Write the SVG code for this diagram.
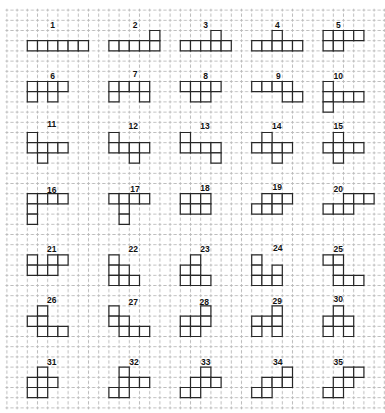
<svg xmlns="http://www.w3.org/2000/svg" width="385" height="413" viewBox="0 0 385 413">
<style>
.c rect{fill:#fff;stroke:#262626;stroke-width:1.2;vector-effect:non-scaling-stroke}
text{font-family:"Liberation Sans",Arial,sans-serif;font-weight:bold;font-size:8.5px;fill:#111;text-anchor:middle}
</style>
<defs>
<pattern id="grid" patternUnits="userSpaceOnUse" x="1.8" y="-5.2" width="10.2" height="10.2">
<path d="M0,5.1H1.6M3.6,5.1H6.6M8.6,5.1H10.2M5.1,0V1.6M5.1,3.6V6.6M5.1,8.6V10.2" fill="none" stroke="#bcbcbc" stroke-width="1"/>
</pattern>
</defs>
<rect width="385" height="413" fill="#fff"/>
<rect x="5" y="8" width="380" height="402" fill="url(#grid)"/>
<g id="connectors"></g>
<g id="n1"><text x="52.7" y="28">1</text><g class="c" transform="matrix(10.2 0 0 10.2 6.9 -0.1)"><rect x="2" y="4" width="1" height="1"/><rect x="3" y="4" width="1" height="1"/><rect x="4" y="4" width="1" height="1"/><rect x="5" y="4" width="1" height="1"/><rect x="6" y="4" width="1" height="1"/><rect x="7" y="4" width="1" height="1"/></g></g>
<g id="n2"><text x="135" y="27.5">2</text><g class="c" transform="matrix(10.2 0 0 10.2 6.9 -0.1)"><rect x="10" y="4" width="1" height="1"/><rect x="11" y="4" width="1" height="1"/><rect x="12" y="4" width="1" height="1"/><rect x="13" y="4" width="1" height="1"/><rect x="14" y="4" width="1" height="1"/><rect x="14" y="3" width="1" height="1"/></g></g>
<g id="n3"><text x="205.7" y="27.7">3</text><g class="c" transform="matrix(10.2 0 0 10.2 6.9 -0.1)"><rect x="17" y="4" width="1" height="1"/><rect x="18" y="4" width="1" height="1"/><rect x="19" y="4" width="1" height="1"/><rect x="20" y="4" width="1" height="1"/><rect x="21" y="4" width="1" height="1"/><rect x="20" y="3" width="1" height="1"/></g></g>
<g id="n4"><text x="277.3" y="28">4</text><g class="c" transform="matrix(10.2 0 0 10.2 6.9 -0.1)"><rect x="24" y="4" width="1" height="1"/><rect x="25" y="4" width="1" height="1"/><rect x="26" y="4" width="1" height="1"/><rect x="27" y="4" width="1" height="1"/><rect x="28" y="4" width="1" height="1"/><rect x="26" y="3" width="1" height="1"/></g></g>
<g id="n5"><text x="338.3" y="27.5">5</text><g class="c" transform="matrix(10.2 0 0 10.2 6.9 -0.1)"><rect x="31" y="3" width="1" height="1"/><rect x="32" y="3" width="1" height="1"/><rect x="33" y="3" width="1" height="1"/><rect x="34" y="3" width="1" height="1"/><rect x="31" y="4" width="1" height="1"/><rect x="32" y="4" width="1" height="1"/></g></g>
<g id="n6"><text x="52.7" y="79.3">6</text><g class="c" transform="matrix(10.2 0 0 10.2 6.9 -0.1)"><rect x="2" y="8" width="1" height="1"/><rect x="3" y="8" width="1" height="1"/><rect x="4" y="8" width="1" height="1"/><rect x="5" y="8" width="1" height="1"/><rect x="2" y="9" width="1" height="1"/><rect x="4" y="9" width="1" height="1"/></g></g>
<g id="n7"><text x="135" y="77">7</text><g class="c" transform="matrix(10.2 0 0 10.2 6.9 -0.1)"><rect x="10" y="8" width="1" height="1"/><rect x="11" y="8" width="1" height="1"/><rect x="12" y="8" width="1" height="1"/><rect x="13" y="8" width="1" height="1"/><rect x="10" y="9" width="1" height="1"/><rect x="13" y="9" width="1" height="1"/></g></g>
<g id="n8"><text x="205.7" y="79">8</text><g class="c" transform="matrix(10.2 0 0 10.2 6.9 -0.1)"><rect x="17" y="8" width="1" height="1"/><rect x="18" y="8" width="1" height="1"/><rect x="19" y="8" width="1" height="1"/><rect x="20" y="8" width="1" height="1"/><rect x="18" y="9" width="1" height="1"/><rect x="19" y="9" width="1" height="1"/></g></g>
<g id="n9"><text x="278.3" y="78.7">9</text><g class="c" transform="matrix(10.2 0 0 10.2 6.9 -0.1)"><rect x="24" y="8" width="1" height="1"/><rect x="25" y="8" width="1" height="1"/><rect x="26" y="8" width="1" height="1"/><rect x="27" y="8" width="1" height="1"/><rect x="27" y="9" width="1" height="1"/><rect x="28" y="9" width="1" height="1"/></g></g>
<g id="n10"><text x="338.3" y="78.7">10</text><g class="c" transform="matrix(10.2 0 0 10.2 6.9 -0.1)"><rect x="31" y="8" width="1" height="1"/><rect x="31" y="9" width="1" height="1"/><rect x="32" y="9" width="1" height="1"/><rect x="33" y="9" width="1" height="1"/><rect x="34" y="9" width="1" height="1"/><rect x="31" y="10" width="1" height="1"/></g></g>
<g id="n11"><text x="51.7" y="127.3">11</text><g class="c" transform="matrix(10.2 0 0 10.2 6.9 -0.1)"><rect x="2" y="13" width="1" height="1"/><rect x="2" y="14" width="1" height="1"/><rect x="3" y="14" width="1" height="1"/><rect x="4" y="14" width="1" height="1"/><rect x="5" y="14" width="1" height="1"/><rect x="3" y="15" width="1" height="1"/></g></g>
<g id="n12"><text x="133.3" y="129.3">12</text><g class="c" transform="matrix(10.2 0 0 10.2 6.9 -0.1)"><rect x="10" y="13" width="1" height="1"/><rect x="10" y="14" width="1" height="1"/><rect x="11" y="14" width="1" height="1"/><rect x="12" y="14" width="1" height="1"/><rect x="13" y="14" width="1" height="1"/><rect x="12" y="15" width="1" height="1"/></g></g>
<g id="n13"><text x="205" y="129.3">13</text><g class="c" transform="matrix(10.2 0 0 10.2 6.9 -0.1)"><rect x="17" y="13" width="1" height="1"/><rect x="17" y="14" width="1" height="1"/><rect x="18" y="14" width="1" height="1"/><rect x="19" y="14" width="1" height="1"/><rect x="20" y="14" width="1" height="1"/><rect x="20" y="15" width="1" height="1"/></g></g>
<g id="n14"><text x="276.7" y="129.3">14</text><g class="c" transform="matrix(10.2 0 0 10.2 6.9 -0.1)"><rect x="25" y="13" width="1" height="1"/><rect x="24" y="14" width="1" height="1"/><rect x="25" y="14" width="1" height="1"/><rect x="26" y="14" width="1" height="1"/><rect x="27" y="14" width="1" height="1"/><rect x="26" y="15" width="1" height="1"/></g></g>
<g id="n15"><text x="338.3" y="129.3">15</text><g class="c" transform="matrix(10.2 0 0 10.2 6.9 -0.1)"><rect x="32" y="13" width="1" height="1"/><rect x="31" y="14" width="1" height="1"/><rect x="32" y="14" width="1" height="1"/><rect x="33" y="14" width="1" height="1"/><rect x="34" y="14" width="1" height="1"/><rect x="32" y="15" width="1" height="1"/></g></g>
<g id="n16"><text x="51.7" y="192.5">16</text><g class="c" transform="matrix(10.2 0 0 10.2 6.9 -0.1)"><rect x="2" y="19" width="1" height="1"/><rect x="3" y="19" width="1" height="1"/><rect x="4" y="19" width="1" height="1"/><rect x="5" y="19" width="1" height="1"/><rect x="2" y="20" width="1" height="1"/><rect x="2" y="21" width="1" height="1"/></g></g>
<g id="n17"><text x="135" y="191.7">17</text><g class="c" transform="matrix(10.2 0 0 10.2 6.9 -0.1)"><rect x="10" y="19" width="1" height="1"/><rect x="11" y="19" width="1" height="1"/><rect x="12" y="19" width="1" height="1"/><rect x="13" y="19" width="1" height="1"/><rect x="11" y="20" width="1" height="1"/><rect x="11" y="21" width="1" height="1"/></g></g>
<g id="n18"><text x="205" y="190.7">18</text><g class="c" transform="matrix(10.2 0 0 10.2 6.9 -0.1)"><rect x="17" y="19" width="1" height="1"/><rect x="18" y="19" width="1" height="1"/><rect x="19" y="19" width="1" height="1"/><rect x="17" y="20" width="1" height="1"/><rect x="18" y="20" width="1" height="1"/><rect x="19" y="20" width="1" height="1"/></g></g>
<g id="n19"><text x="277.3" y="190">19</text><g class="c" transform="matrix(10.2 0 0 10.2 6.9 -0.1)"><rect x="25" y="19" width="1" height="1"/><rect x="26" y="19" width="1" height="1"/><rect x="27" y="19" width="1" height="1"/><rect x="24" y="20" width="1" height="1"/><rect x="25" y="20" width="1" height="1"/><rect x="26" y="20" width="1" height="1"/></g></g>
<g id="n20"><text x="338.3" y="191.7">20</text><g class="c" transform="matrix(10.2 0 0 10.2 6.9 -0.1)"><rect x="33" y="19" width="1" height="1"/><rect x="34" y="19" width="1" height="1"/><rect x="35" y="19" width="1" height="1"/><rect x="31" y="20" width="1" height="1"/><rect x="32" y="20" width="1" height="1"/><rect x="33" y="20" width="1" height="1"/></g></g>
<g id="n21"><text x="51.7" y="251.7">21</text><g class="c" transform="matrix(10.2 0 0 10.2 6.9 -0.1)"><rect x="2" y="25" width="1" height="1"/><rect x="4" y="25" width="1" height="1"/><rect x="5" y="25" width="1" height="1"/><rect x="2" y="26" width="1" height="1"/><rect x="3" y="26" width="1" height="1"/><rect x="4" y="26" width="1" height="1"/></g></g>
<g id="n22"><text x="133.3" y="252.3">22</text><g class="c" transform="matrix(10.2 0 0 10.2 6.9 -0.1)"><rect x="10" y="25" width="1" height="1"/><rect x="10" y="26" width="1" height="1"/><rect x="11" y="26" width="1" height="1"/><rect x="10" y="27" width="1" height="1"/><rect x="11" y="27" width="1" height="1"/><rect x="12" y="27" width="1" height="1"/></g></g>
<g id="n23"><text x="205" y="251.7">23</text><g class="c" transform="matrix(10.2 0 0 10.2 6.9 -0.1)"><rect x="18" y="25" width="1" height="1"/><rect x="17" y="26" width="1" height="1"/><rect x="18" y="26" width="1" height="1"/><rect x="17" y="27" width="1" height="1"/><rect x="18" y="27" width="1" height="1"/><rect x="19" y="27" width="1" height="1"/></g></g>
<g id="n24"><text x="277.7" y="251">24</text><g class="c" transform="matrix(10.2 0 0 10.2 6.9 -0.1)"><rect x="24" y="25" width="1" height="1"/><rect x="24" y="26" width="1" height="1"/><rect x="26" y="26" width="1" height="1"/><rect x="24" y="27" width="1" height="1"/><rect x="25" y="27" width="1" height="1"/><rect x="26" y="27" width="1" height="1"/></g></g>
<g id="n25"><text x="338.3" y="252.3">25</text><g class="c" transform="matrix(10.2 0 0 10.2 6.9 -0.1)"><rect x="31" y="25" width="1" height="1"/><rect x="32" y="25" width="1" height="1"/><rect x="32" y="26" width="1" height="1"/><rect x="32" y="27" width="1" height="1"/><rect x="33" y="27" width="1" height="1"/><rect x="34" y="27" width="1" height="1"/></g></g>
<g id="n26"><text x="51.7" y="303.3">26</text><g class="c" transform="matrix(10.2 0 0 10.2 6.9 -0.1)"><rect x="3" y="30" width="1" height="1"/><rect x="2" y="31" width="1" height="1"/><rect x="3" y="31" width="1" height="1"/><rect x="3" y="32" width="1" height="1"/><rect x="4" y="32" width="1" height="1"/><rect x="5" y="32" width="1" height="1"/></g></g>
<g id="n27"><text x="133.3" y="305">27</text><g class="c" transform="matrix(10.2 0 0 10.2 6.9 -0.1)"><rect x="10" y="30" width="1" height="1"/><rect x="10" y="31" width="1" height="1"/><rect x="11" y="31" width="1" height="1"/><rect x="11" y="32" width="1" height="1"/><rect x="12" y="32" width="1" height="1"/><rect x="13" y="32" width="1" height="1"/></g></g>
<g id="n28"><text x="204.3" y="305">28</text><g class="c" transform="matrix(10.2 0 0 10.2 6.9 -0.1)"><rect x="19" y="30" width="1" height="1"/><rect x="17" y="31" width="1" height="1"/><rect x="18" y="31" width="1" height="1"/><rect x="19" y="31" width="1" height="1"/><rect x="17" y="32" width="1" height="1"/><rect x="18" y="32" width="1" height="1"/></g></g>
<g id="n29"><text x="277.3" y="304.3">29</text><g class="c" transform="matrix(10.2 0 0 10.2 6.9 -0.1)"><rect x="26" y="30" width="1" height="1"/><rect x="24" y="31" width="1" height="1"/><rect x="25" y="31" width="1" height="1"/><rect x="26" y="31" width="1" height="1"/><rect x="24" y="32" width="1" height="1"/><rect x="26" y="32" width="1" height="1"/></g></g>
<g id="n30"><text x="338.3" y="302.3">30</text><g class="c" transform="matrix(10.2 0 0 10.2 6.9 -0.1)"><rect x="32" y="30" width="1" height="1"/><rect x="31" y="31" width="1" height="1"/><rect x="32" y="31" width="1" height="1"/><rect x="33" y="31" width="1" height="1"/><rect x="31" y="32" width="1" height="1"/><rect x="33" y="32" width="1" height="1"/></g></g>
<g id="n31"><text x="51.7" y="365">31</text><g class="c" transform="matrix(10.2 0 0 10.2 6.9 -0.1)"><rect x="3" y="36" width="1" height="1"/><rect x="2" y="37" width="1" height="1"/><rect x="3" y="37" width="1" height="1"/><rect x="4" y="37" width="1" height="1"/><rect x="2" y="38" width="1" height="1"/><rect x="3" y="38" width="1" height="1"/></g></g>
<g id="n32"><text x="134" y="365">32</text><g class="c" transform="matrix(10.2 0 0 10.2 6.9 -0.1)"><rect x="11" y="36" width="1" height="1"/><rect x="11" y="37" width="1" height="1"/><rect x="12" y="37" width="1" height="1"/><rect x="13" y="37" width="1" height="1"/><rect x="10" y="38" width="1" height="1"/><rect x="11" y="38" width="1" height="1"/></g></g>
<g id="n33"><text x="205.7" y="365">33</text><g class="c" transform="matrix(10.2 0 0 10.2 6.9 -0.1)"><rect x="19" y="36" width="1" height="1"/><rect x="18" y="37" width="1" height="1"/><rect x="19" y="37" width="1" height="1"/><rect x="20" y="37" width="1" height="1"/><rect x="17" y="38" width="1" height="1"/><rect x="18" y="38" width="1" height="1"/></g></g>
<g id="n34"><text x="277.7" y="365">34</text><g class="c" transform="matrix(10.2 0 0 10.2 6.9 -0.1)"><rect x="27" y="36" width="1" height="1"/><rect x="25" y="37" width="1" height="1"/><rect x="26" y="37" width="1" height="1"/><rect x="27" y="37" width="1" height="1"/><rect x="24" y="38" width="1" height="1"/><rect x="25" y="38" width="1" height="1"/></g></g>
<g id="n35"><text x="338.3" y="364.7">35</text><g class="c" transform="matrix(10.2 0 0 10.2 6.9 -0.1)"><rect x="33" y="36" width="1" height="1"/><rect x="34" y="36" width="1" height="1"/><rect x="32" y="37" width="1" height="1"/><rect x="33" y="37" width="1" height="1"/><rect x="31" y="38" width="1" height="1"/><rect x="32" y="38" width="1" height="1"/></g></g>
</svg>
